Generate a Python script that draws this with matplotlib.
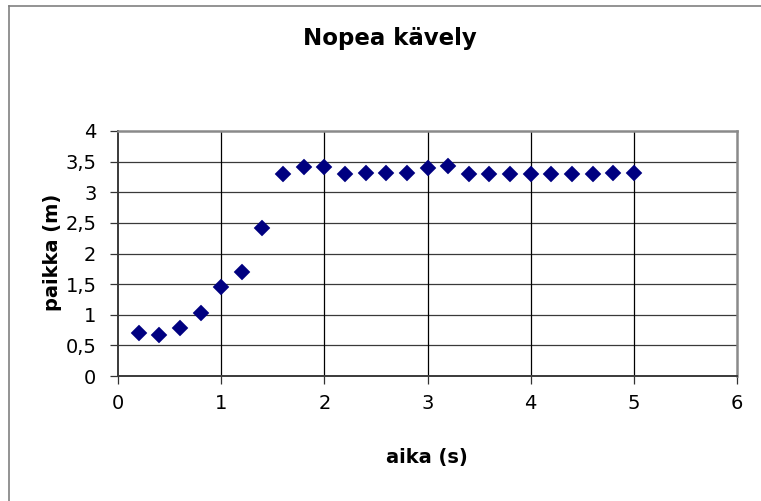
import matplotlib
matplotlib.use("Agg")
import matplotlib.pyplot as plt
from matplotlib.lines import Line2D

# Data
aika = [0.2, 0.4, 0.6, 0.8, 1.0, 1.2, 1.4, 1.6, 1.8, 2.0, 2.2, 2.4, 2.6, 2.8,
        3.0, 3.2, 3.4, 3.6, 3.8, 4.0, 4.2, 4.4, 4.6, 4.8, 5.0]
paikka = [0.70, 0.67, 0.78, 1.03, 1.45, 1.69, 2.42, 3.30, 3.42, 3.42, 3.30, 3.31, 3.31, 3.31,
          3.39, 3.43, 3.30, 3.30, 3.29, 3.29, 3.30, 3.30, 3.30, 3.31, 3.31]
x_ticks = [0, 1, 2, 3, 4, 5, 6]
x_ticklabels = ["0", "1", "2", "3", "4", "5", "6"]
y_ticks = [0, 0.5, 1, 1.5, 2, 2.5, 3, 3.5, 4]
y_ticklabels = ["0", "0,5", "1", "1,5", "2", "2,5", "3", "3,5", "4"]
title = "Nopea kävely"
xlabel = "aika (s)"
ylabel = "paikka (m)"

W, H = 761, 501
fig = plt.figure(figsize=(W / 100, H / 100), dpi=100)
fig.patch.set_facecolor("white")

ax = fig.add_axes([118 / W, 1 - 376 / H, (737 - 118) / W, (376 - 131) / H])
ax.set_xlim(0, 6)
ax.set_ylim(0, 4)

# grid
for yv in y_ticks[1:-1]:
    ax.axhline(yv, color="#3a3a3a", lw=0.9, zorder=1)
for xv in x_ticks[1:-1]:
    ax.axvline(xv, color="black", lw=0.9, zorder=1)

ax.plot(aika, paikka, linestyle="none", marker="D", markersize=8.2,
        color="#000080", markeredgecolor="#000080", markeredgewidth=0.3, zorder=3)

ax.set_xticks(x_ticks)
ax.set_xticklabels(x_ticklabels)
ax.set_yticks(y_ticks)
ax.set_yticklabels(y_ticklabels)
ax.tick_params(axis="both", direction="out", length=5.5, width=0.9, color="#333333",
               labelsize=14, labelcolor="black")
ax.tick_params(axis="x", pad=7.5)
ax.tick_params(axis="y", pad=10)

for s in ["left", "bottom"]:
    ax.spines[s].set_color("#3a3a3a")
    ax.spines[s].set_linewidth(1.4)
for s in ["top", "right"]:
    ax.spines[s].set_color("#8a8a8a")
    ax.spines[s].set_linewidth(1.8)

fig.text(390 / W, 1 - 45 / H, title, ha="center", va="baseline",
         fontsize=16.5, fontweight="bold", color="black")
fig.text(427 / W, 1 - 463 / H, xlabel, ha="center", va="baseline",
         fontsize=14, fontweight="bold", color="black")
fig.text(52 / W, 1 - 252 / H, ylabel, ha="center", va="center", rotation=90,
         fontsize=14, fontweight="bold", color="black")

# chart-area border (left and top edges visible)
fig.add_artist(Line2D([8.5 / W, 8.5 / W], [0, 1 - 5.5 / H], transform=fig.transFigure,
                      color="#808080", lw=1.2))
fig.add_artist(Line2D([8.5 / W, 1], [1 - 5.5 / H, 1 - 5.5 / H], transform=fig.transFigure,
                      color="#808080", lw=1.2))

fig.savefig("out.png", dpi=100)
